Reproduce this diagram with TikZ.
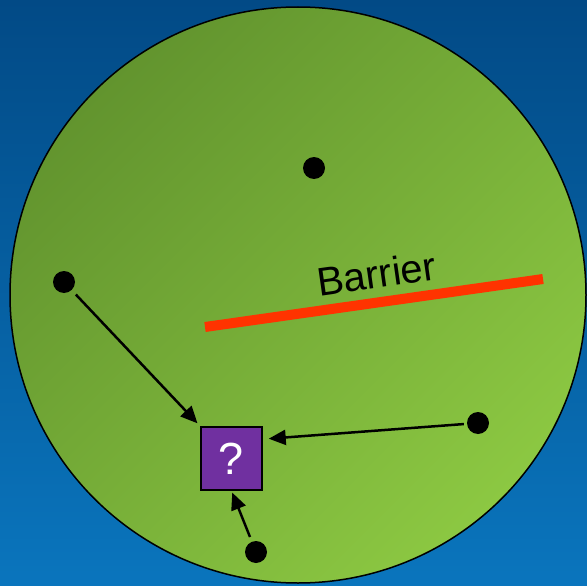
\documentclass[tikz,border=0pt]{standalone}
\usepackage{fontspec}
\setmainfont{Liberation Sans}
\usetikzlibrary{arrows.meta,calc}
\definecolor{bgtop}{HTML}{024A86}
\definecolor{bgbottom}{HTML}{0A75BD}
\definecolor{fielddark}{HTML}{62942E}
\definecolor{fieldlight}{HTML}{8CC842}
\definecolor{goalpurple}{HTML}{7030A0}
\definecolor{barrierred}{HTML}{FF3300}
\begin{document}
\begin{tikzpicture}[x=1pt,y=-1pt,
    agent/.style={circle,fill=black,inner sep=0pt,minimum size=22pt},
    move/.style={line width=2.5pt,-{Triangle[length=17pt,width=15pt]}}]
  \useasboundingbox (0,0) rectangle (587,586);
  % background and field
  \shade[top color=bgtop,bottom color=bgbottom] (0,0) rectangle (587,586);
  \shadedraw[top color=fielddark,bottom color=fieldlight,shading angle=45,
    draw=black,line width=1.5pt] (298,295) circle (288pt);
  % the barrier
  \coordinate (b1) at (205,327);
  \coordinate (b2) at (543,279);
  \draw[barrierred,line width=10pt] (b1) -- (b2)
    node[pos=0.52,sloped,above=9pt,inner sep=0pt,text=black,
      font=\fontsize{40}{48}\selectfont] (blabel) {Barrier};
  % agents and the unknown goal
  \node [agent] (top) at (314,168) {};
  \node [agent] (left) at (64,282) {};
  \node [agent] (right) at (478,423) {};
  \node [agent] (bottom) at (256,552) {};
  \node [draw=black,line width=1.5pt,fill=goalpurple,text=white,
    minimum width=61pt,minimum height=63pt,inner sep=0pt,
    font=\fontsize{45}{50}\selectfont] (q) at (231.5,458.5) {?};
  \draw[move,shorten <=6pt,shorten >=4pt] (left) -- (q.north west);
  \draw[move,shorten <=3pt,shorten >=6pt] (right) -- ($(q.north east)!0.2!(q.south east)$);
  \draw[move,shorten <=5pt,shorten >=2pt] (bottom) -- (q.south);
\end{tikzpicture}
\end{document}
